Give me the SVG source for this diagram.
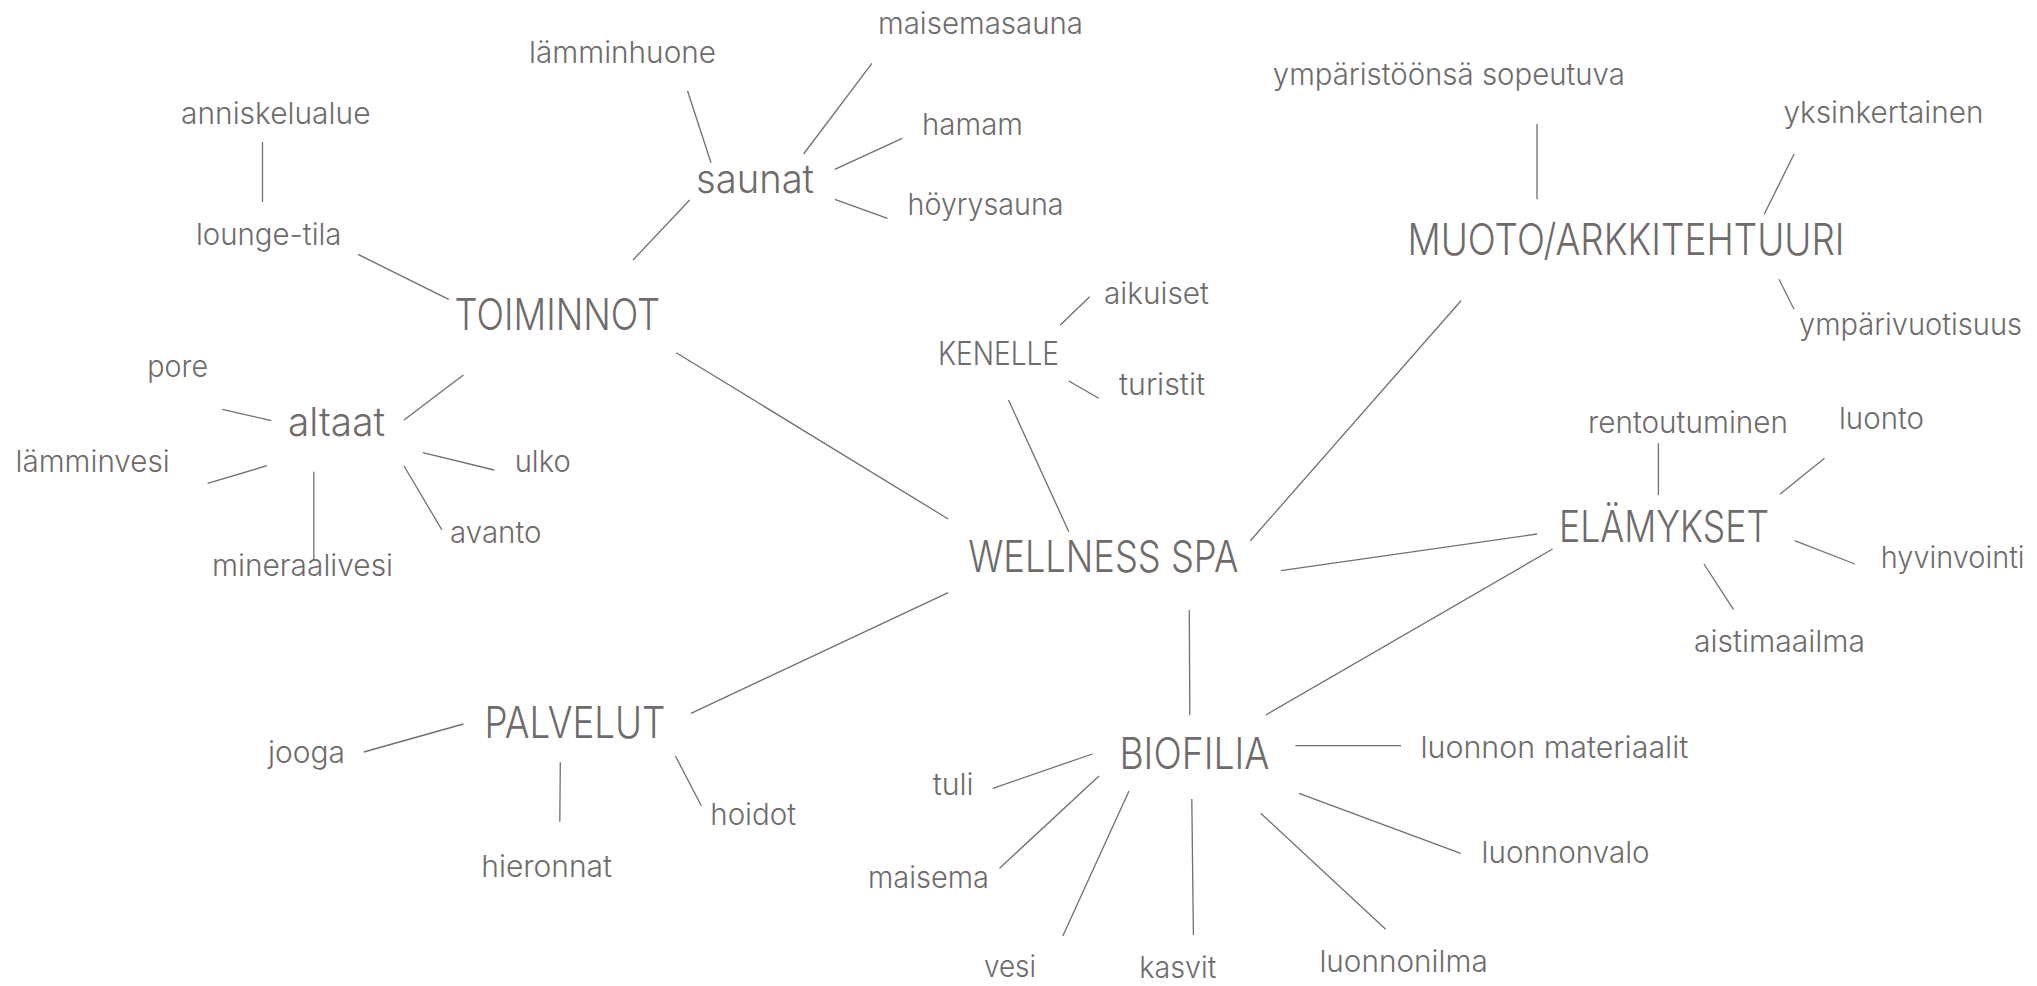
<svg xmlns="http://www.w3.org/2000/svg" width="2037" height="986" viewBox="0 0 2037 986">
<style>
text{font-family:Inter,"Open Sans","Liberation Sans",sans-serif;font-weight:300;fill:#6f6b6b}
.leaf{font-size:30px}
.mid{font-size:40px}
.main{font-size:44px}
.ken{font-size:32px}
#connectors line{stroke:#707070;stroke-width:1.3;fill:none}
</style>
<rect width="2037" height="986" fill="#ffffff"/>
<g id="connectors">
<line x1="262.5" y1="142" x2="262.5" y2="202"/>
<line x1="358" y1="254.3" x2="448.7" y2="299.3"/>
<line x1="633" y1="260" x2="689.7" y2="200"/>
<line x1="687.5" y1="90.7" x2="711" y2="162.7"/>
<line x1="803.6" y1="154" x2="871.9" y2="63.3"/>
<line x1="834.8" y1="169.3" x2="902.2" y2="138.3"/>
<line x1="834.8" y1="199.3" x2="887.5" y2="218.3"/>
<line x1="404" y1="420" x2="463.4" y2="375"/>
<line x1="222.3" y1="409.3" x2="271.4" y2="420.7"/>
<line x1="267" y1="465.7" x2="207.6" y2="483.3"/>
<line x1="313.8" y1="471.7" x2="313.8" y2="560"/>
<line x1="422.8" y1="452.7" x2="494.2" y2="470"/>
<line x1="404" y1="466" x2="442" y2="530"/>
<line x1="676.3" y1="352.7" x2="948.2" y2="519"/>
<line x1="1008.5" y1="400" x2="1068.8" y2="531.7"/>
<line x1="1060.3" y1="325" x2="1089.7" y2="296.7"/>
<line x1="1068.8" y1="381" x2="1098.7" y2="398.3"/>
<line x1="1250.4" y1="540.7" x2="1461" y2="300.7"/>
<line x1="1537" y1="124" x2="1537" y2="199.3"/>
<line x1="1764.2" y1="214.3" x2="1794.1" y2="154"/>
<line x1="1779" y1="279.3" x2="1794" y2="309.3"/>
<line x1="1280.8" y1="570.7" x2="1537" y2="534"/>
<line x1="1658.4" y1="443.3" x2="1658.4" y2="495"/>
<line x1="1779.9" y1="494.3" x2="1824.5" y2="458.3"/>
<line x1="1794.6" y1="540.7" x2="1854.9" y2="564"/>
<line x1="1704" y1="564" x2="1733.4" y2="609.3"/>
<line x1="1552.6" y1="549" x2="1265.8" y2="715"/>
<line x1="1189.3" y1="610" x2="1189.8" y2="715"/>
<line x1="948.2" y1="592.7" x2="691" y2="713.3"/>
<line x1="463.4" y1="724" x2="363.8" y2="752"/>
<line x1="560.3" y1="762.3" x2="559.8" y2="821.7"/>
<line x1="675.4" y1="756" x2="701.3" y2="805.7"/>
<line x1="1295.4" y1="745.7" x2="1401" y2="745.7"/>
<line x1="1092.3" y1="754" x2="992.9" y2="788.3"/>
<line x1="1099" y1="776" x2="999.5" y2="868.3"/>
<line x1="1129" y1="791" x2="1062.8" y2="936"/>
<line x1="1191.8" y1="799" x2="1193.4" y2="935"/>
<line x1="1260.7" y1="813.3" x2="1385.7" y2="929.3"/>
<line x1="1299" y1="793.3" x2="1460.7" y2="853.3"/>
</g>
<g id="wellness-spa"><text class="main" x="968.3" y="571.7" textLength="270" lengthAdjust="spacingAndGlyphs">WELLNESS SPA</text></g>
<g id="toiminnot"><text class="main" x="454.5" y="330" textLength="205.5" lengthAdjust="spacingAndGlyphs">TOIMINNOT</text></g>
<g id="saunat"><text class="mid" x="696" y="193.3" textLength="118" lengthAdjust="spacingAndGlyphs">saunat</text></g>
<g id="lamminhuone"><text class="leaf" x="529" y="63" textLength="187" lengthAdjust="spacingAndGlyphs">lämminhuone</text></g>
<g id="maisemasauna"><text class="leaf" x="878" y="33.5" textLength="205" lengthAdjust="spacingAndGlyphs">maisemasauna</text></g>
<g id="hamam"><text class="leaf" x="922" y="135" textLength="101" lengthAdjust="spacingAndGlyphs">hamam</text></g>
<g id="hoyrysauna"><text class="leaf" x="907.6" y="215" textLength="156" lengthAdjust="spacingAndGlyphs">höyrysauna</text></g>
<g id="anniskelualue"><text class="leaf" x="181" y="124" textLength="189.5" lengthAdjust="spacingAndGlyphs">anniskelualue</text></g>
<g id="lounge-tila"><text class="leaf" x="196" y="245" textLength="145.5" lengthAdjust="spacingAndGlyphs">lounge-tila</text></g>
<g id="altaat"><text class="mid" x="288" y="436" textLength="97" lengthAdjust="spacingAndGlyphs">altaat</text></g>
<g id="pore"><text class="leaf" x="147.3" y="376.7" textLength="60.7" lengthAdjust="spacingAndGlyphs">pore</text></g>
<g id="lamminvesi"><text class="leaf" x="15.6" y="471.7" textLength="154" lengthAdjust="spacingAndGlyphs">lämminvesi</text></g>
<g id="ulko"><text class="leaf" x="514.7" y="471.7" textLength="56" lengthAdjust="spacingAndGlyphs">ulko</text></g>
<g id="avanto"><text class="leaf" x="450" y="543.3" textLength="91.5" lengthAdjust="spacingAndGlyphs">avanto</text></g>
<g id="mineraalivesi"><text class="leaf" x="212" y="576" textLength="181" lengthAdjust="spacingAndGlyphs">mineraalivesi</text></g>
<g id="kenelle"><text class="ken" x="938" y="365" textLength="121" lengthAdjust="spacingAndGlyphs">KENELLE</text></g>
<g id="aikuiset"><text class="leaf" x="1104" y="304" textLength="105" lengthAdjust="spacingAndGlyphs">aikuiset</text></g>
<g id="turistit"><text class="leaf" x="1119" y="395" textLength="86" lengthAdjust="spacingAndGlyphs">turistit</text></g>
<g id="muoto"><text class="main" x="1407.5" y="255" textLength="437" lengthAdjust="spacingAndGlyphs">MUOTO/ARKKITEHTUURI</text></g>
<g id="ymparistoonsa"><text class="leaf" x="1272.8" y="85" textLength="352" lengthAdjust="spacingAndGlyphs">ympäristöönsä sopeutuva</text></g>
<g id="yksinkertainen"><text class="leaf" x="1783.4" y="123.3" textLength="200" lengthAdjust="spacingAndGlyphs">yksinkertainen</text></g>
<g id="ymparivuotisuus"><text class="leaf" x="1799" y="335" textLength="223" lengthAdjust="spacingAndGlyphs">ympärivuotisuus</text></g>
<g id="elamykset"><text class="main" x="1559" y="541.7" textLength="210" lengthAdjust="spacingAndGlyphs">ELÄMYKSET</text></g>
<g id="rentoutuminen"><text class="leaf" x="1588" y="433.3" textLength="200" lengthAdjust="spacingAndGlyphs">rentoutuminen</text></g>
<g id="luonto"><text class="leaf" x="1839" y="429" textLength="85" lengthAdjust="spacingAndGlyphs">luonto</text></g>
<g id="hyvinvointi"><text class="leaf" x="1880.8" y="568.3" textLength="143.7" lengthAdjust="spacingAndGlyphs">hyvinvointi</text></g>
<g id="aistimaailma"><text class="leaf" x="1694" y="651.7" textLength="171" lengthAdjust="spacingAndGlyphs">aistimaailma</text></g>
<g id="palvelut"><text class="main" x="484.4" y="738.3" textLength="181" lengthAdjust="spacingAndGlyphs">PALVELUT</text></g>
<g id="jooga"><text class="leaf" x="268" y="762.7" textLength="77" lengthAdjust="spacingAndGlyphs">jooga</text></g>
<g id="hieronnat"><text class="leaf" x="481.3" y="876.7" textLength="130.7" lengthAdjust="spacingAndGlyphs">hieronnat</text></g>
<g id="hoidot"><text class="leaf" x="710.3" y="825" textLength="85.7" lengthAdjust="spacingAndGlyphs">hoidot</text></g>
<g id="biofilia"><text class="main" x="1119.4" y="769" textLength="150" lengthAdjust="spacingAndGlyphs">BIOFILIA</text></g>
<g id="luonnon-materiaalit"><text class="leaf" x="1420.4" y="758.3" textLength="268" lengthAdjust="spacingAndGlyphs">luonnon materiaalit</text></g>
<g id="tuli"><text class="leaf" x="932.7" y="795" textLength="41" lengthAdjust="spacingAndGlyphs">tuli</text></g>
<g id="maisema"><text class="leaf" x="868" y="888.3" textLength="121" lengthAdjust="spacingAndGlyphs">maisema</text></g>
<g id="vesi"><text class="leaf" x="984" y="976.7" textLength="52" lengthAdjust="spacingAndGlyphs">vesi</text></g>
<g id="kasvit"><text class="leaf" x="1139.3" y="978" textLength="77" lengthAdjust="spacingAndGlyphs">kasvit</text></g>
<g id="luonnonilma"><text class="leaf" x="1319.4" y="971.7" textLength="168.4" lengthAdjust="spacingAndGlyphs">luonnonilma</text></g>
<g id="luonnonvalo"><text class="leaf" x="1481.6" y="863.3" textLength="168" lengthAdjust="spacingAndGlyphs">luonnonvalo</text></g>
</svg>
